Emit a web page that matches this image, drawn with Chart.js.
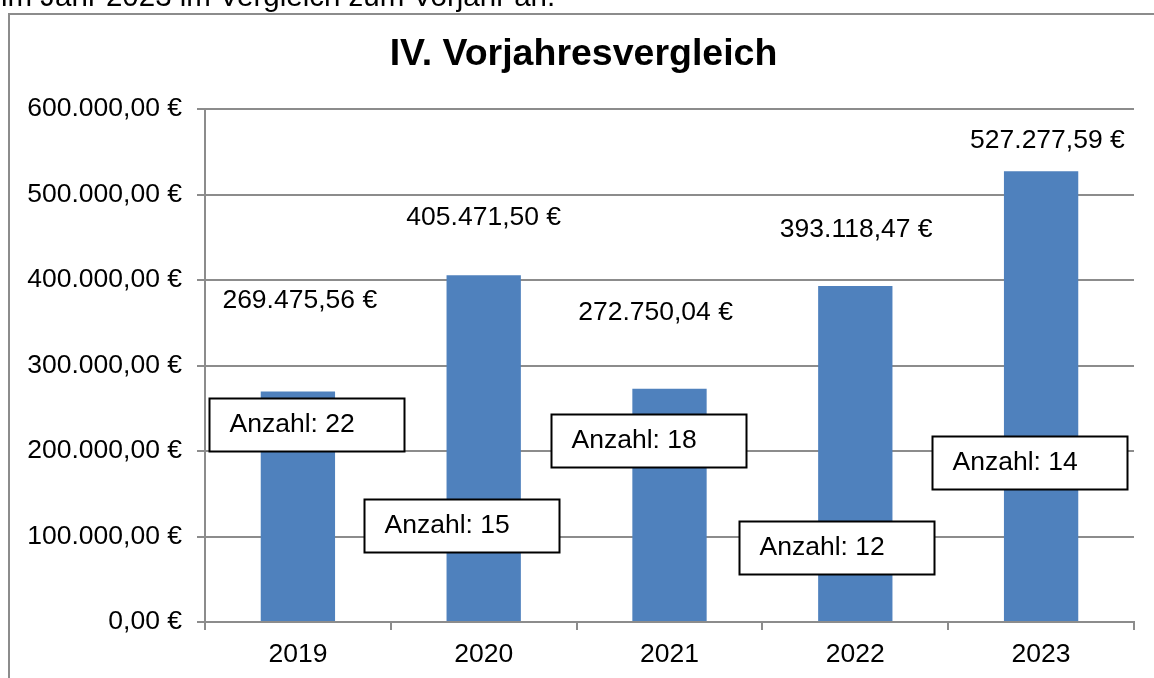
<!DOCTYPE html>
<html>
<head>
<meta charset="utf-8">
<script src="https://cdn.jsdelivr.net/npm/chart.js@4"></script>
<style>
  html, body { margin: 0; padding: 0; background: #fff; overflow: hidden; }
  #wrap { position: relative; width: 1154px; height: 678px; }
  #lead { position: absolute; left: 1px; top: -19px; font: 29.5px 'Liberation Sans', Arial, sans-serif;
          line-height: 1; white-space: nowrap; color: #000; }
</style>
</head>
<body>
<div id="wrap">
  <canvas id="chart" width="1154" height="678"></canvas>
  <div id="lead">im Jahr 2023 im Vergleich zum Vorjahr an.</div>
</div>
<script>
// Daten
const title = 'IV. Vorjahresvergleich';
const years = ['2019', '2020', '2021', '2022', '2023'];
const amounts = [269475.56, 405471.50, 272750.04, 393118.47, 527277.59];
const counts = [22, 15, 18, 12, 14];
const yTickValues = [0, 100000, 200000, 300000, 400000, 500000, 600000];

// Beschriftungen wurden im Original von Hand verschoben (Euro-Höhe / Anteil einer Kategorie)
const amountLabelAt = [375400, 472500, 361400, 459100, 562600];
const amountLabelShift = [0.01, 0, -0.075, 0.005, 0.034];
const countBoxAt = [230400, 112300, 211700, 86800, 186500];
const countBoxShift = [0.049, -0.117, -0.111, -0.097, -0.06];

const FONT = "'Liberation Sans', Arial, sans-serif";
const GRID = '#8c8c8c';

function euro(v) {
  const [int, dec] = v.toFixed(2).split('.');
  return int.replace(/\B(?=(\d{3})+(?!\d))/g, '.') + ',' + dec + ' €';
}

// Rahmen, Titel + Beschriftungen
const annotate = {
  id: 'annotate',
  beforeDraw(chart) {
    const ctx = chart.ctx;
    ctx.save();
    ctx.fillStyle = '#fff';
    ctx.fillRect(0, 0, chart.width, chart.height);
    ctx.strokeStyle = GRID;
    ctx.lineWidth = 2;
    ctx.strokeRect(9, 14, chart.width + 20, chart.height + 20);
    ctx.fillStyle = '#000';
    ctx.font = 'bold 37.5px ' + FONT;
    ctx.textAlign = 'center';
    ctx.textBaseline = 'middle';
    ctx.fillText(title, 583.5, 55);
    ctx.restore();
  },
  afterDatasetsDraw(chart) {
    const { ctx, scales: { x, y } } = chart;
    const step = x.getPixelForValue(1) - x.getPixelForValue(0);
    ctx.save();
    ctx.font = '26.5px ' + FONT;
    ctx.textBaseline = 'middle';
    ctx.fillStyle = '#000';
    ctx.textAlign = 'center';
    amounts.forEach((v, i) => {
      ctx.fillText(euro(v), x.getPixelForValue(i) + amountLabelShift[i] * step, y.getPixelForValue(amountLabelAt[i]));
    });
    const w = 195, h = 53;
    counts.forEach((n, i) => {
      const cx = Math.round(x.getPixelForValue(i) + countBoxShift[i] * step);
      const cy = Math.round(y.getPixelForValue(countBoxAt[i]));
      ctx.fillStyle = '#fff';
      ctx.fillRect(cx - w / 2, cy - h / 2, w, h);
      ctx.lineWidth = 2;
      ctx.strokeStyle = '#000';
      ctx.strokeRect(cx - w / 2, cy - h / 2, w, h);
      ctx.fillStyle = '#000';
      ctx.textAlign = 'left';
      ctx.fillText('Anzahl: ' + n, cx - w / 2 + 20, cy);
    });
    ctx.restore();
  }
};

new Chart(document.getElementById('chart'), {
  type: 'bar',
  data: {
    labels: years,
    datasets: [{
      data: amounts,
      backgroundColor: '#4f81bd',
      categoryPercentage: 1,
      barPercentage: 0.4
    }]
  },
  options: {
    responsive: false,
    animation: false,
    layout: { padding: { left: 0, right: 20, top: 109, bottom: 0 } },
    plugins: {
      legend: { display: false },
      tooltip: { enabled: false },
      title: { display: false }
    },
    scales: {
      x: {
        grid: { display: true, drawOnChartArea: false, drawTicks: true, tickLength: 8, color: GRID, lineWidth: 2, offset: true },
        border: { color: GRID, width: 2 },
        ticks: { color: '#000', font: { family: FONT, size: 26.5 }, padding: 9 },
        afterFit: s => { s.height = 56; }
      },
      y: {
        min: 0,
        max: 600000,
        afterBuildTicks: s => { s.ticks = yTickValues.map(v => ({ value: v })); },
        grid: { color: GRID, lineWidth: 2, tickLength: 8 },
        border: { color: GRID, width: 2 },
        ticks: { color: '#000', font: { family: FONT, size: 26.5 }, padding: 15, callback: v => euro(v) },
        afterFit: s => { s.width = 205; }
      }
    }
  },
  plugins: [annotate]
});
</script>
</body>
</html>
